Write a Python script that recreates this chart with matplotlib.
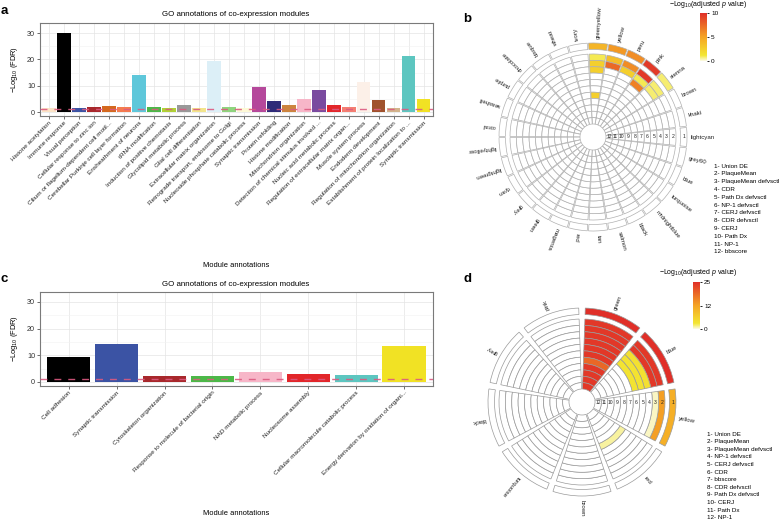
import numpy as np
import matplotlib
matplotlib.use('Agg')
import matplotlib.pyplot as plt
from matplotlib.colors import LinearSegmentedColormap, Normalize
from matplotlib.cm import ScalarMappable

plt.rcParams['font.family'] = ['Liberation Sans', 'DejaVu Sans']
plt.rcParams['mathtext.fontset'] = 'custom'
plt.rcParams['mathtext.rm'] = 'Liberation Sans'
plt.rcParams['mathtext.it'] = 'Liberation Sans:italic'

W, H = 784, 523

#%% data, panel a
a_terms = ['Histone acetylation', 'Immune response', 'Visual perception',
           'Cellular response to zinc ion', 'Cilium or flagellum-dependent cell motil...',
           'Cerebellar Purkinje cell layer formation', 'Ensheathment of neurons',
           'tRNA modification', 'Induction of positive chemotaxis',
           'Glycolipid metabolic process', 'Glial cell differentiation',
           'Extracellular matrix organization', 'Retrograde transport, endosome to Golgi',
           'Nucleoside phosphate catabolic process', 'Synaptic transmission',
           'Protein refolding', 'Histone modification', 'Mitochondrion organization',
           'Detection of chemical stimulus involved ...', 'Nucleic acid metabolic process',
           'Regulation of extracellular matrix organ...', 'Muscle system process',
           'Endoderm development', 'Regulation of mitochondrion organization',
           'Establishment of protein localization to ...', 'Synaptic transmission']
a_modules = ['bisque', 'black', 'blue', 'brown', 'chocolate', 'coral', 'cyan', 'green',
             'greenyellow', 'grey', 'khaki', 'lightcyan', 'lightgreen', 'lightyellow',
             'magenta', 'midnightblue', 'peru', 'pink', 'purple', 'red', 'salmon',
             'seashell', 'sienna', 'tan', 'turquoise', 'yellow']
a_fdr = [1.6, 30.0, 1.6, 2.0, 2.3, 1.9, 14.1, 2.0, 1.6, 2.5, 1.4, 19.4, 1.8, 1.4,
         9.4, 4.2, 2.7, 4.8, 8.5, 2.7, 1.9, 11.5, 4.6, 1.4, 21.3, 4.8]

#%% data, panel c
c_terms = ['Cell adhesion', 'Synaptic transmission', 'Cytoskeleton organization',
           'Response to molecule of bacterial origin', 'NAD metabolic process',
           'Nucleosome assembly', 'Cellular macromolecule catabolic process',
           'Energy derivation by oxidation of organi...']
c_modules = ['black', 'blue', 'brown', 'green', 'pink', 'red', 'turquoise', 'yellow']
c_fdr = [9.3, 14.3, 2.4, 2.1, 3.9, 2.9, 2.7, 13.5]

fdr_cut = 1.3

# module colours as they look in the figure (a bit muted)
module_hex = {'bisque': '#fbe3c6', 'black': '#000000', 'blue': '#3b53a4', 'brown': '#a8282c',
              'chocolate': '#d4691f', 'coral': '#f47b50', 'cyan': '#5ec7da', 'green': '#4cb848',
              'greenyellow': '#b0d235', 'grey': '#999999', 'khaki': '#f2e58c',
              'lightcyan': '#dcEFF7', 'lightgreen': '#8fd47e', 'lightyellow': '#fdf9d6',
              'magenta': '#b5489b', 'midnightblue': '#2e2b78', 'peru': '#cd853f',
              'pink': '#f7b6c8', 'purple': '#7a4a9f', 'red': '#e2262a', 'salmon': '#f47f72',
              'seashell': '#fcf0e8', 'sienna': '#a0522d', 'tan': '#d2b48c',
              'turquoise': '#5dc6c0', 'yellow': '#f1e224'}

#%% data, panel b (circos, 12 traits per module)
b_traits = ['Union DE', 'PlaqueMean', 'PlaqueMean defvsctl', 'CDR', 'Path Dx defvsctl',
            'NP-1 defvsctl', 'CERJ defvsctl', 'CDR defvsctl', 'CERJ', 'Path Dx', 'NP-1',
            'bbscore']
b_modules = ['lightcyan', 'khaki', 'brown', 'sienna', 'pink', 'peru', 'yellow', 'greenyellow',
             'ivory', 'wheat', 'bisque', 'chocolate', 'purple', 'seashell', 'coral',
             'lightyellow', 'lightgreen', 'cyan', 'grey', 'green', 'magenta', 'red', 'tan',
             'salmon', 'black', 'midnightblue', 'turquoise', 'blue', 'grey60']
b_greenyellow = [4.0, 1.0, 2.5, 2.5, 0, 0, 0, 2.5, 0, 0, 0, 0]
b_yellow = [5.5, 3.5, 7.5, 0, 0, 0, 0, 0, 0, 0, 0, 0]
b_peru = [6.0, 6.0, 2.5, 0, 0, 0, 0, 0, 0, 0, 0, 0]
b_pink = [9.5, 9.5, 1.0, 6.5, 0, 0, 0, 0, 0, 0, 0, 0]
b_sienna = [0.8, 0.8, 0.8, 0, 0, 0, 0, 0, 0, 0, 0, 0]
b_max = 10

#%% data, panel d
d_traits = ['Union DE', 'PlaqueMean', 'PlaqueMean defvsctl', 'NP-1 defvsctl',
            'CERJ defvsctl', 'CDR', 'bbscore', 'CDR defvsctl', 'Path Dx defvsctl', 'CERJ',
            'Path Dx', 'NP-1']
d_modules = ['yellow', 'blue', 'green', 'pink', 'grey', 'black', 'turquoise', 'brown', 'red']
d_green = [25, 24, 24, 24, 24, 24, 24, 19, 24, 24, 24, 24]
d_blue = [25, 24, 24, 4, 3.5, 3.5, 0, 0, 0, 0, 0, 0]
d_yellow = [11, 13, 0.6, 0, 0, 0, 0, 0, 0, 0, 0, 0]
d_red = [0, 0, 0, 0, 0, 0, 1.2, 0, 0, 0, 0, 0]
d_max = 25

heat = LinearSegmentedColormap.from_list(
    'heat', [(0, '#fcfae6'), (0.12, '#f3e632'), (0.5, '#f5a424'), (1.0, '#e02f28')])

fig = plt.figure(figsize=(W / 100, H / 100), dpi=100)


def px_axes(l, t, w, h, **kw):
    return fig.add_axes([l / W, 1 - (t + h) / H, w / W, h / H], **kw)


def ftext(x, y, s, **kw):
    fig.text(x / W, 1 - y / H, s, **kw)


def barpanel(top, bottom, terms, modules, fdr, title_y, xlab_y):
    ax = px_axes(40, top, 392.7, bottom - top)
    x = np.arange(len(terms))
    ax.bar(x, fdr, width=0.9, color=[module_hex[m] for m in modules], zorder=2)
    ax.axhline(fdr_cut, color='#dc5a80', lw=1.0, ls=(0, (5, 5)), alpha=0.9, zorder=3)
    ax.set_xlim(-0.6, len(terms) - 0.4)
    ax.set_ylim(-1.5, 33.8)
    ax.set_yticks([0, 10, 20, 30])
    ax.set_yticks([5, 15, 25], minor=True)
    ax.set_xticks(x)
    ax.set_xticklabels(terms, rotation=45, ha='right', va='top', rotation_mode='anchor',
                       fontsize=4.6, color='#222222')
    ax.tick_params(axis='y', labelsize=5.2, length=2, width=0.5, color='#333333',
                   labelcolor='#333333', pad=1.5)
    ax.tick_params(axis='x', length=2, width=0.5, color='#333333', pad=1)
    ax.tick_params(which='minor', length=0)
    ax.grid(which='major', color='#e4e4e4', lw=0.5, zorder=0)
    ax.grid(which='minor', axis='y', color='#f2f2f2', lw=0.4, zorder=0)
    ax.set_axisbelow(True)
    for s in ax.spines.values():
        s.set_color('#7a7a7a')
        s.set_linewidth(0.8)
    ftext(236, title_y, 'GO annotations of co-expression modules', ha='center', va='center',
          fontsize=5.7)
    ftext(236, xlab_y, 'Module annotations', ha='center', va='center', fontsize=5.4)
    ftext(14, (top + bottom) / 2, r'$-$Log$_{10}$ (FDR)', rotation=90, ha='center',
          va='center', fontsize=5.4)
    return ax


barpanel(23, 116, a_terms, a_modules, a_fdr, 15, 265.7)
barpanel(291.7, 386, c_terms, c_modules, c_fdr, 284, 513.5)

# circos rings, radii in pixels (polar axes of 200 px, rmax 100)
r_hole = 13.0
r_inner_out = 83.0
r1 = (87.5, 94.0)
th_in = (r_inner_out - r_hole) / 11


def track_span(k):
    if k == 0:
        return r1
    top = r_inner_out - (k - 1) * th_in
    return (top - th_in, top)


def circos(cx, cy, modules, cells, vmax, step, start, gap, edge):
    ax = px_axes(cx - 100, cy - 100, 200, 200, projection='polar')
    ax.set_axis_off()
    ax.set_ylim(0, 100)
    norm = Normalize(0, vmax)
    for i, m in enumerate(modules):
        deg = start + i * step
        th = np.deg2rad(deg)
        vals = cells.get(m, [0] * 12)
        for k in range(12):
            lo, hi = track_span(k)
            v = vals[k]
            fc = heat(norm(v)) if v > 0 else 'white'
            ax.bar(th, hi - lo, width=np.deg2rad(step - gap), bottom=lo, color=fc,
                   edgecolor=edge, linewidth=0.5, align='center')
        ax.text(th, 98, m, rotation=deg % 360, rotation_mode='anchor', ha='left',
                va='center', fontsize=4.4, color='#222222')
    for k in range(12):
        lo, hi = track_span(k)
        ax.text(0, (lo + hi) / 2, str(k + 1), ha='center', va='center', fontsize=3.6,
                color='#222222')
    return ax


circos(593, 137, b_modules,
       {'greenyellow': b_greenyellow, 'yellow': b_yellow, 'peru': b_peru, 'pink': b_pink,
        'sienna': b_sienna},
       b_max, 360 / len(b_modules), 0, 0.8, '#b0b0b0')
circos(582, 402, d_modules,
       {'green': d_green, 'blue': d_blue, 'yellow': d_yellow, 'red': d_red},
       d_max, 360 / len(d_modules), -10, 4, '#9a9a9a')


def colourbar(l, t, h, vmax, ticks, labels, title_x, title_y):
    cax = px_axes(l, t, 7, h)
    cb = fig.colorbar(ScalarMappable(Normalize(0, vmax), heat), cax=cax)
    cb.outline.set_visible(False)
    cb.set_ticks(ticks)
    cb.set_ticklabels(labels)
    cax.tick_params(labelsize=4.6, length=1.5, width=0.6, pad=1.5)
    ftext(title_x, title_y, r'$-$Log$_{10}$(adjusted $p$ value)', ha='center', va='center',
          fontsize=5.0)


colourbar(700, 13, 48, b_max, [0, 5, 10], ['0', '5', '10'], 708, 5)
colourbar(693, 282, 47, d_max, [0, 12.5, 25], ['0', '12', '25'], 698, 273)

for j, t in enumerate(b_traits):
    ftext(714, 166 + j * 7.8, '{}- {}'.format(j + 1, t), ha='left', va='center', fontsize=4.5)
for j, t in enumerate(d_traits):
    ftext(707, 434 + j * 7.6, '{}- {}'.format(j + 1, t), ha='left', va='center', fontsize=4.5)

for s, x, y in [('a', 4, 11), ('b', 467, 18.5), ('c', 4, 279), ('d', 467, 279.5)]:
    ftext(x, y, s, ha='center', va='center', fontsize=9.5, fontweight='bold')

fig.savefig('out.png', dpi=100)
